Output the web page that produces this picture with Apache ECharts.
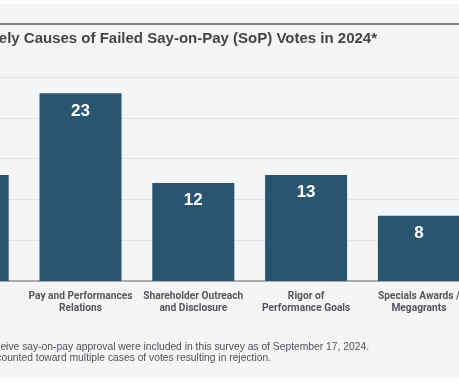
<!DOCTYPE html>
<html>
<head>
<meta charset="utf-8">
<script src="https://cdn.jsdelivr.net/npm/echarts@6/dist/echarts.min.js"></script>
<style>html,body{margin:0;padding:0;background:#fff}#c{width:459px;height:383px}</style>
</head>
<body>
<div id="c"></div>
<script>
const categories = ['Quantum\nof Pay', 'Pay and Performances\nRelations', 'Shareholder Outreach\nand Disclosure', 'Rigor of\nPerformance Goals', 'Specials Awards /\nMegagrants'];
const values = [13, 23, 12, 13, 8];
const yTicks = { min: 0, max: 25, interval: 5 };
const titleText = 'Most Likely Causes of Failed Say-on-Pay (SoP) Votes in 2024*';
const footnote1 = '*Companies that failed to receive say-on-pay approval were included in this survey as of September 17, 2024.';
const footnote2 = 'Note: Some companies were counted toward multiple cases of votes resulting in rejection.';

const chart = echarts.init(document.getElementById('c'), null, { renderer: 'canvas' });
const FONT = '"Liberation Sans", Arial, sans-serif';
const LABEL_FONT = 'Roboto, "Liberation Sans", sans-serif';
chart.setOption({
  backgroundColor: '#f4f5f7',
  animation: false,
  graphic: [
    { type: 'rect', shape: { x: 0, y: 0, width: 459, height: 4 }, style: { fill: '#ffffff' }, silent: true },
    { type: 'rect', shape: { x: 0, y: 377, width: 459, height: 6 }, style: { fill: '#ffffff' }, silent: true },
    { type: 'rect', shape: { x: 0, y: 23, width: 459, height: 2 }, style: { fill: '#7d7f82' }, silent: true },
    { type: 'text', x: 377, y: 39, style: { text: titleText, textAlign: 'right', textVerticalAlign: 'middle', font: 'bold 15px ' + FONT, fill: '#444547' } },
    { type: 'text', x: 369, y: 347, style: { text: footnote1, textAlign: 'right', textVerticalAlign: 'middle', font: '10.3px ' + FONT, fill: '#4f5154' } },
    { type: 'text', x: 271, y: 358.5, style: { text: footnote2, textAlign: 'right', textVerticalAlign: 'middle', font: '10.3px ' + FONT, fill: '#4f5154' } }
  ],
  grid: { left: -88.7, right: -16.3, top: 77, bottom: 102, containLabel: false, outerBoundsMode: 'none' },
  xAxis: {
    type: 'category',
    data: categories,
    axisTick: { show: false },
    axisLine: { lineStyle: { color: '#a8aaad', width: 2 } },
    axisLabel: { interval: 0, margin: 9, fontFamily: LABEL_FONT, fontWeight: 'bold', fontSize: 10.2, lineHeight: 12, color: '#55575a', hideOverlap: false }
  },
  yAxis: {
    type: 'value',
    min: yTicks.min, max: yTicks.max, interval: yTicks.interval,
    axisLabel: { show: false },
    axisLine: { show: false },
    axisTick: { show: false },
    splitLine: { lineStyle: { color: '#e3e4e7', width: 1 } }
  },
  series: [{
    type: 'bar',
    data: values,
    barWidth: 82,
    itemStyle: { color: '#2a5571' },
    label: { show: true, position: 'insideTop', distance: 9, color: '#ffffff', fontFamily: FONT, fontWeight: 'bold', fontSize: 17 }
  }]
});
</script>
</body>
</html>
